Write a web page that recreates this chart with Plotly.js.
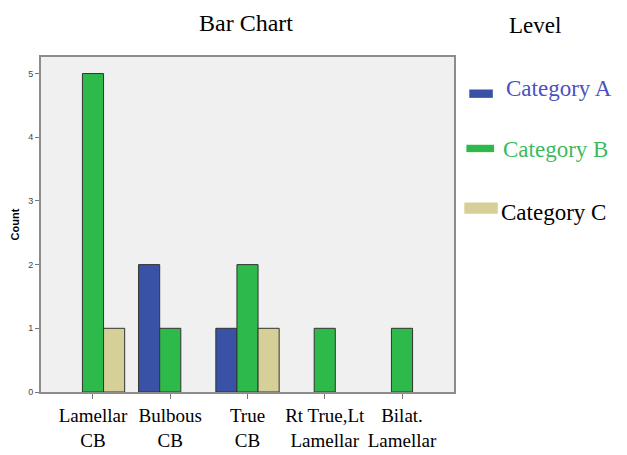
<!DOCTYPE html>
<html>
<head>
<meta charset="utf-8">
<script src="https://cdn.plot.ly/plotly-3.0.1.min.js"></script>
<style>html,body{margin:0;padding:0;background:#fff;}#chart{width:627px;height:455px;}</style>
</head>
<body>
<div id="chart"></div>
<script>
const categories = ["Lamellar CB", "Bulbous CB", "True CB", "Rt True,Lt Lamellar", "Bilat. Lamellar"];
const tickLabels = ["Lamellar<br>CB", "Bulbous<br>CB", "True<br>CB", "Rt True,Lt<br>Lamellar", "Bilat.<br>Lamellar"];
const seriesNames = ["Category A", "Category B", "Category C"];
const categoryA = [0, 2, 1, 0, 0];
const categoryB = [5, 1, 2, 1, 1];
const categoryC = [1, 0, 1, 0, 0];
const barColors = ["#3a52a6", "#2eb94b", "#d6d098"];
const legendTextColors = ["#4b4fc4", "#3dba5c", "#000000"];

const serif = "'Liberation Serif', 'Times New Roman', serif";
const sans = "'Liberation Sans', Arial, sans-serif";

const values = [categoryA, categoryB, categoryC];
const traces = values.map((v, i) => ({
  type: "bar",
  x: categories,
  y: v.map(d => (d === 0 ? null : d)),
  name: seriesNames[i],
  marker: {color: barColors[i], line: {color: "#333333", width: 1}},
  showlegend: false,
  hoverinfo: "x+y+name"
}));

// legend drawn as annotations + small rectangles (paper coords)
const legendY = [0.905, 0.725, 0.535];
const symbolBoxes = [
  [1.037, 1.094, 0.878, 0.903],
  [1.030, 1.097, 0.716, 0.738],
  [1.025, 1.106, 0.532, 0.566]
];
const textX = [1.12, 1.115, 1.11];
const annotations = [
  {text: "Bar Chart", xref: "paper", yref: "paper", x: 0.497, y: 1.0, yshift: 34, xanchor: "center", yanchor: "middle", showarrow: false,
   font: {family: serif, size: 24, color: "#000"}},
  {text: "Level", xref: "paper", yref: "paper", x: 1.197, y: 1.0, yshift: 32, xanchor: "center", yanchor: "middle", showarrow: false,
   font: {family: serif, size: 23, color: "#000"}}
];
const shapes = [];
seriesNames.forEach((n, i) => {
  annotations.push({text: n, xref: "paper", yref: "paper", x: textX[i], y: legendY[i], xanchor: "left", yanchor: "middle",
    showarrow: false, font: {family: serif, size: 23, color: legendTextColors[i]}});
  const b = symbolBoxes[i];
  shapes.push({type: "rect", xref: "paper", yref: "paper", x0: b[0], x1: b[1], y0: b[2], y1: b[3],
    fillcolor: barColors[i], line: {width: 0}});
});

const layout = {
  width: 627, height: 455,
  margin: {l: 41, r: 173, t: 57, b: 63, pad: 0},
  paper_bgcolor: "#ffffff",
  plot_bgcolor: "#f0f0f0",
  barmode: "group",
  bargap: 0.18,
  bargroupgap: 0,
  showlegend: false,
  xaxis: {
    type: "category",
    range: [-0.673, 4.673],
    tickvals: categories,
    ticktext: tickLabels,
    tickangle: 0,
    ticks: "outside", ticklen: 5, tickcolor: "#777", tickwidth: 1,
    showline: true, linecolor: "#8c8c8c", linewidth: 2, mirror: true,
    showgrid: false, zeroline: false,
    tickfont: {family: serif, size: 19, color: "#000"}
  },
  yaxis: {
    range: [0, 5.26],
    tickvals: [0, 1, 2, 3, 4, 5],
    ticks: "outside", ticklen: 4, tickcolor: "#777", tickwidth: 1,
    showline: true, linecolor: "#8c8c8c", linewidth: 2, mirror: true,
    showgrid: false, zeroline: false,
    tickfont: {family: sans, size: 9, color: "#444"},
    title: {text: "Count", font: {family: sans, size: 11, color: "#000", weight: "bold"}, standoff: 6}
  },
  annotations: annotations,
  shapes: shapes
};

Plotly.newPlot("chart", traces, layout, {displayModeBar: false, staticPlot: true});
</script>
</body>
</html>
